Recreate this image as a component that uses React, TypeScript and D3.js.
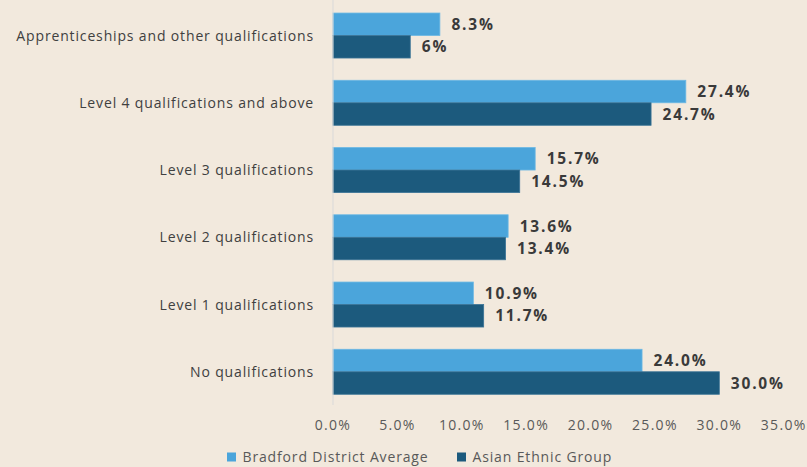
import React, { useEffect, useRef } from 'react';
import * as d3 from 'd3';

const categories = [
  'Apprenticeships and other qualifications',
  'Level 4 qualifications and above',
  'Level 3 qualifications',
  'Level 2 qualifications',
  'Level 1 qualifications',
  'No qualifications',
];
const seriesNames = ['Bradford District Average', 'Asian Ethnic Group'];
const bradfordValues = [8.3, 27.4, 15.7, 13.6, 10.9, 24.0];
const asianValues = [6, 24.7, 14.5, 13.4, 11.7, 30.0];
const valueLabels = [
  ['8.3%', '27.4%', '15.7%', '13.6%', '10.9%', '24.0%'],
  ['6%', '24.7%', '14.5%', '13.4%', '11.7%', '30.0%'],
];
const xTicks = [0, 5, 10, 15, 20, 25, 30, 35];

const colors = ['#4ba5db', '#1c5a7d'];
const font = "'Open Sans', sans-serif";

export default function App() {
  const ref = useRef<SVGSVGElement>(null);

  useEffect(() => {
    const svg = d3.select(ref.current);
    svg.selectAll('*').remove();

    const width = 807;
    const height = 467;

    svg.append('rect').attr('width', width).attr('height', height).attr('fill', '#f2e9dd');

    const x = d3.scaleLinear().domain([0, 35]).range([333, 783.7]);
    const y = d3.scaleBand<string>().domain(categories).range([1.9, 405.4]).paddingInner(0.331).paddingOuter(0.1655);
    const sub = d3.scaleBand<number>().domain([0, 1]).range([0, y.bandwidth()]);

    const series = [bradfordValues, asianValues];

    // bars
    series.forEach((vals, si) => {
      svg.append('g')
        .selectAll('rect')
        .data(vals)
        .enter()
        .append('rect')
        .attr('x', x(0))
        .attr('y', (d, i) => (y(categories[i]) as number) + (sub(si) as number))
        .attr('width', d => x(d) - x(0))
        .attr('height', sub.bandwidth())
        .attr('fill', colors[si])
        .attr('stroke', si === 0 ? '#6cb8e4' : '#3a7396')
        .attr('stroke-width', 0.8);

      svg.append('g')
        .selectAll('text')
        .data(vals)
        .enter()
        .append('text')
        .attr('x', d => x(d) + 11.5)
        .attr('y', (d, i) => (y(categories[i]) as number) + (sub(si) as number) + sub.bandwidth() / 2)
        .attr('dy', '0.36em')
        .attr('font-family', font)
        .attr('font-size', 15.5)
        .attr('font-weight', 'bold')
        .attr('letter-spacing', 1.8)
        .attr('fill', '#3a3a3a')
        .text((d, i) => valueLabels[si][i]);
    });

    // vertical axis line
    svg.append('line')
      .attr('x1', x(0)).attr('x2', x(0))
      .attr('y1', 0).attr('y2', 405)
      .attr('stroke', '#d9d9d9')
      .attr('stroke-width', 1);

    // category labels
    svg.append('g')
      .selectAll('text')
      .data(categories)
      .enter()
      .append('text')
      .attr('x', 314)
      .attr('y', d => (y(d) as number) + y.bandwidth() / 2)
      .attr('dy', '0.36em')
      .attr('text-anchor', 'end')
      .attr('font-family', font)
      .attr('font-size', 14)
      .attr('letter-spacing', 0.85)
      .attr('fill', '#404040')
      .text(d => d);

    // x tick labels
    svg.append('g')
      .selectAll('text')
      .data(xTicks)
      .enter()
      .append('text')
      .attr('x', d => x(d))
      .attr('y', 425)
      .attr('dy', '0.36em')
      .attr('text-anchor', 'middle')
      .attr('font-family', font)
      .attr('font-size', 14)
      .attr('letter-spacing', 1.3)
      .attr('fill', '#595959')
      .text(d => d3.format('.1f')(d) + '%');

    // legend
    const legendX = [227, 457];
    seriesNames.forEach((name, si) => {
      svg.append('rect')
        .attr('x', legendX[si])
        .attr('y', 452.5)
        .attr('width', 9)
        .attr('height', 9)
        .attr('fill', colors[si]);
      svg.append('text')
        .attr('x', legendX[si] + 15.5)
        .attr('y', 457)
        .attr('dy', '0.36em')
        .attr('font-family', font)
        .attr('font-size', 14)
        .attr('letter-spacing', 0.85)
        .attr('fill', '#595959')
        .text(name);
    });
  }, []);

  return (
    <svg ref={ref} width={807} height={467} style={{ position: 'absolute', left: 0, top: 0, display: 'block' }} />
  );
}
